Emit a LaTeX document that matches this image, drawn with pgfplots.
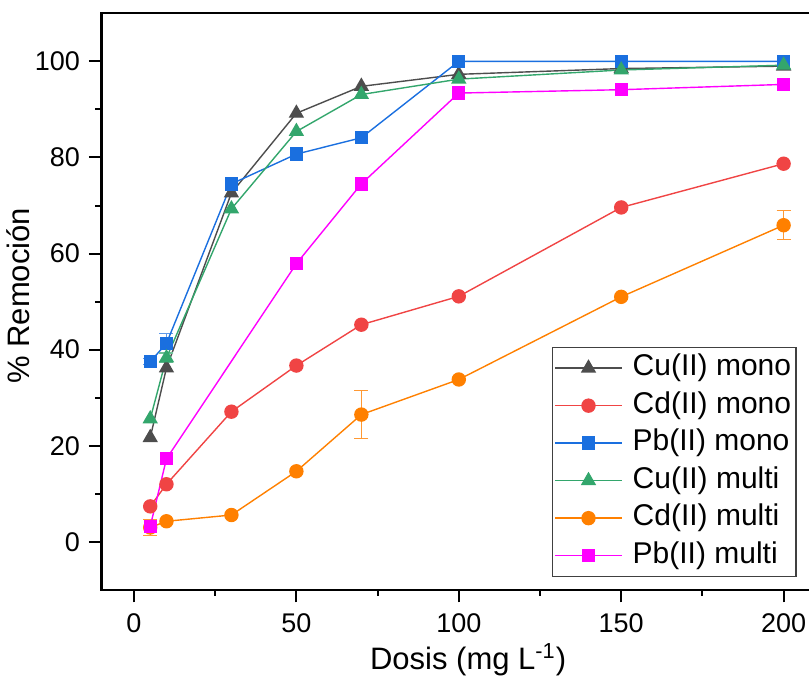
\documentclass[border=0pt]{standalone}
\usepackage{fontspec}
\setmainfont{Liberation Sans}
\usepackage{pgfplots}
\pgfplotsset{compat=1.18}
\definecolor{cgray}{HTML}{4D4D4D}
\definecolor{cred}{HTML}{F04444}
\definecolor{cblue}{HTML}{1A6FDF}
\definecolor{cgreen}{HTML}{33A66C}
\definecolor{corange}{HTML}{FF8000}
\definecolor{cmag}{HTML}{FF00FF}
\begin{document}
\begin{tikzpicture}
\useasboundingbox (-50.75pt,-44pt) rectangle (353.75pt,295pt);
\clip (-50.75pt,-44pt) rectangle (353.75pt,295pt);
\begin{pgfinterruptboundingbox}
\begin{axis}[
  at={(0pt,0pt)}, anchor=south west,
  scale only axis, width=357.3pt, height=288.35pt,
  xmin=-10, xmax=210, ymin=-10, ymax=110,
  xtick={0,50,100,150,200}, ytick={0,20,40,60,80,100},
  minor x tick num=1, minor y tick num=1,
  xtick pos=left, ytick pos=left,
  tick align=outside,
  major tick length=6.25pt, minor tick length=3pt,
  axis line style={line width=1.1pt},
  every tick/.style={line width=1pt, black},
  /pgf/number format/assume math mode=true,
  ticklabel style={font=\fontsize{13.5}{16}\selectfont},
  xticklabel style={yshift=-2pt},
  yticklabel style={xshift=-1pt},
  xlabel={Dosis (mg L\textsuperscript{-1})},
  ylabel={\% Remoción},
  label style={font=\fontsize{15.5}{18}\selectfont},
  xlabel style={at={(axis description cs:0.513,-0.121)}, anchor=center},
  ylabel style={at={(axis description cs:-0.116,0.51)}, anchor=center},
  legend cell align=left,
  legend image code/.code={\draw[mark repeat=2,mark phase=2,#1] plot coordinates {(0pt,0pt) (16.75pt,0pt) (33.5pt,0pt)}; \path (37pt,0pt);},
  legend style={at={(axis description cs:0.630,0.0225)}, anchor=south west,
    draw=black!75, line width=0.6pt, font=\fontsize{15}{18}\selectfont,
    inner sep=1pt, row sep=0pt,
    nodes={inner sep=1.5pt, text height=11.75pt, text depth=4pt}},
]
% Cu(II) mono
\addplot[color=cgray, line width=0.7pt, mark=triangle*, mark size=3.75pt, mark options={solid, fill=cgray}]
 coordinates {(5,21.7)(10,36.2)(30,72.6)(50,89.2)(70,94.8)(100,97.3)(150,98.5)(200,99.0)};
\addlegendentry{Cu(II) mono}
% Cd(II) mono
\addplot[color=cred, line width=0.7pt, mark=*, mark size=3.25pt, mark options={solid, fill=cred}]
 coordinates {(5,7.4)(10,12.0)(30,27.1)(50,36.7)(70,45.2)(100,51.1)(150,69.6)(200,78.7)};
\addlegendentry{Cd(II) mono}
% Pb(II) mono error bars
\addplot[forget plot, draw=none, mark=none, error bars/.cd, y dir=both, y explicit,
  error bar style={draw=cblue!70, line width=0.6pt},
  error mark options={rotate=90, mark size=3.5pt, draw=cblue!70, line width=0.6pt}]
 coordinates {(5,37.5) +- (0,0.6) (10,41.3) +- (0,2)};
\addplot[color=cblue, line width=0.7pt, mark=square*, mark size=3pt, mark options={solid, fill=cblue}]
 coordinates {(5,37.5)(10,41.3)(30,74.5)(50,80.7)(70,84.1)(100,100)(150,100)(200,100)};
\addlegendentry{Pb(II) mono}
% Cu(II) multi error bars
\addplot[forget plot, draw=none, mark=none, error bars/.cd, y dir=both, y explicit,
  error bar style={draw=cgreen!70, line width=0.6pt},
  error mark options={rotate=90, mark size=3.5pt, draw=cgreen!70, line width=0.6pt}]
 coordinates {(10,38.3) +- (0,1)};
\addplot[color=cgreen, line width=0.7pt, mark=triangle*, mark size=3.75pt, mark options={solid, fill=cgreen}]
 coordinates {(5,25.6)(10,38.3)(30,69.3)(50,85.4)(70,93.1)(100,96.3)(150,98.2)(200,99.2)};
\addlegendentry{Cu(II) multi}
% Cd(II) multi error bars
\addplot[forget plot, draw=none, mark=none, error bars/.cd, y dir=both, y explicit,
  error bar style={draw=corange!80, line width=0.6pt},
  error mark options={rotate=90, mark size=3.5pt, draw=corange!80, line width=0.6pt}]
 coordinates {(5,3.0) +- (0,1.6) (70,26.5) +- (0,5.05) (200,65.9) +- (0,3)};
\addplot[color=corange, line width=0.7pt, mark=*, mark size=3.25pt, mark options={solid, fill=corange}]
 coordinates {(5,3.0)(10,4.3)(30,5.6)(50,14.7)(70,26.5)(100,33.8)(150,51.0)(200,65.9)};
\addlegendentry{Cd(II) multi}
% Pb(II) multi
\addplot[color=cmag, line width=0.7pt, mark=square*, mark size=3pt, mark options={solid, fill=cmag}]
 coordinates {(5,3.2)(10,17.3)(50,57.9)(70,74.5)(100,93.4)(150,94.1)(200,95.2)};
\addlegendentry{Pb(II) multi}
\end{axis}
\end{pgfinterruptboundingbox}
\end{tikzpicture}
\end{document}
